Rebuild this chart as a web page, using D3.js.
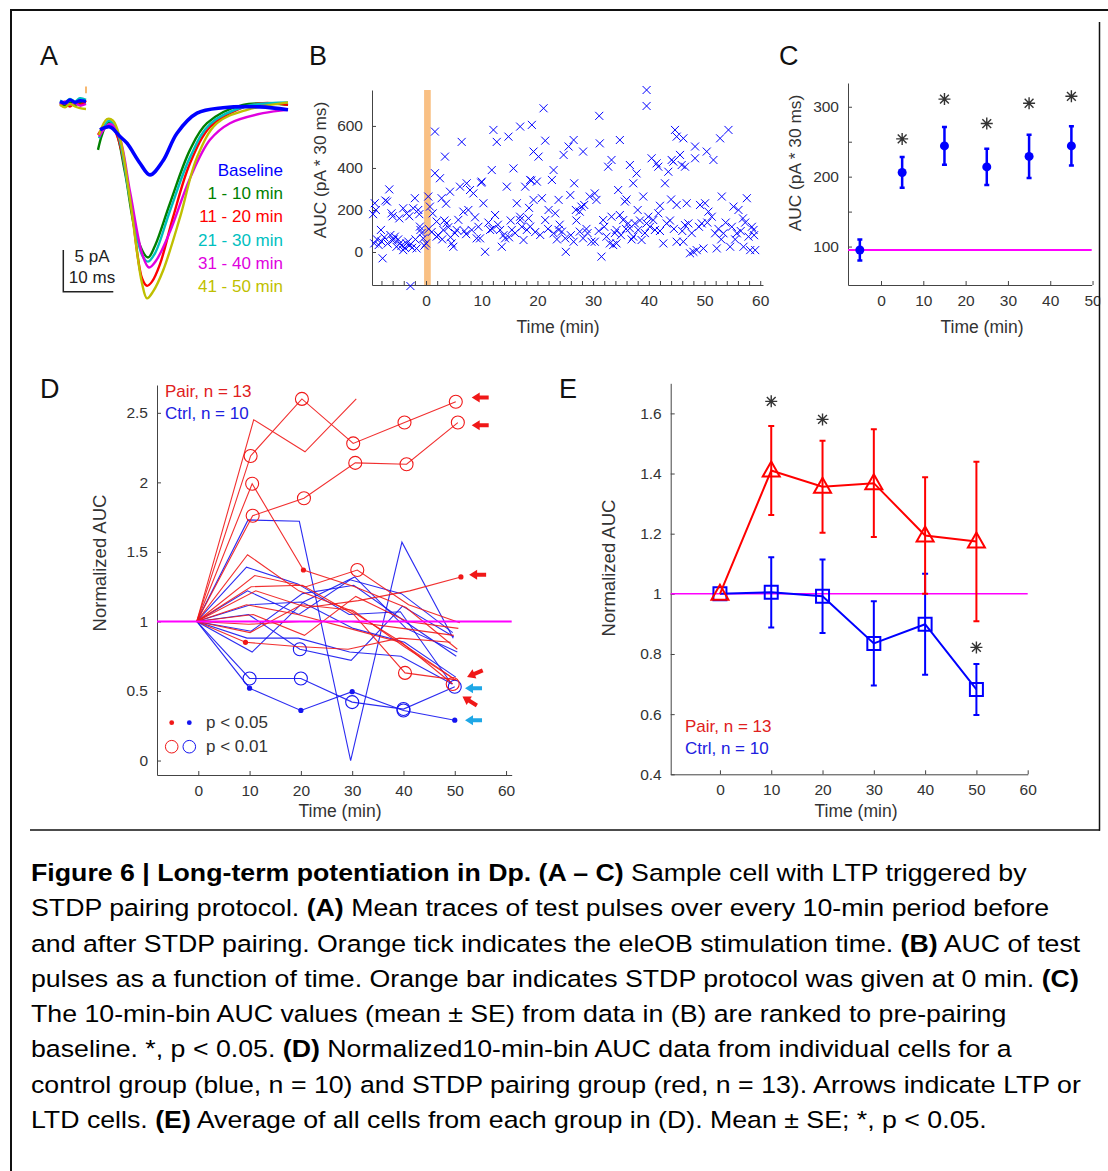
<!DOCTYPE html>
<html lang="en">
<head>
<meta charset="utf-8">
<title>Figure 6 | Long-term potentiation in Dp</title>
<script src="https://cdn.jsdelivr.net/npm/d3@7"></script>
<style>
body { margin: 0; background: #fff; }
svg text { font-family: "Liberation Sans", Arial, Helvetica, sans-serif; }
.axis path, .axis line { stroke: #444; stroke-width: 1; }
.axis text { fill: #333; font-size: 15.5px; }
.title { fill: #333; font-size: 17.5px; }
.letter { fill: #111; font-size: 27px; }
</style>
</head>
<body>
<svg id="fig" width="1108" height="1171"></svg>
<script>

// ---------- data ----------

// panel A: mean traces, [time ms, current pA]
var traceNames  = ["Baseline", "1 - 10 min", "11 - 20 min", "21 - 30 min", "31 - 40 min", "41 - 50 min"];
var traceColors = ["#0000ff", "#008000", "#ff0000", "#00bfbf", "#e000e0", "#bfbf00"];
var tracePre = [
  [[0,0.3],[1,0.1],[2,0.5],[3,0.2],[4,0.4],[5.2,0.3]],
  [[0,0.1],[1,-0.2],[2,0.2],[3,-0.1],[4,0.1],[5.2,0.2]],
  [[0,-0.2],[1,0.1],[2,-0.3],[3,0.2],[4,-0.1],[5.2,0.4]],
  [[0,0.4],[1,0.2],[2,0.6],[3,0.3],[4,0.7],[5.2,0.5]],
  [[0,0.0],[1,0.3],[2,-0.1],[3,0.1],[4,-0.2],[5.2,0.0]],
  [[0,-0.1],[1,-0.4],[2,0.0],[3,-0.3],[4,-0.5],[5.2,-0.6]]
];
var tracePost = [
  [[8.0,-3.1],[10,-2.75],[12,-3.9],[13.4,-4.7],[16,-7.1],[18,-8.5],[20.6,-6.8],[23.4,-3.5],[27.4,-1.1],[32.6,-0.45],[40,-0.35],[45.6,-0.7]],
  [[7.6,-5.5],[8.4,-3.7],[9.6,-2.2],[11,-3.0],[13,-8.2],[15.4,-16],[17.6,-18.4],[19,-17],[22,-11.9],[26,-5.5],[29.4,-2.3],[36.6,-0.1],[45.6,-0.1]],
  [[7.6,-3.7],[8.4,-3.1],[10.4,-2.75],[11.6,-4.1],[14,-11.2],[16.4,-20.9],[17.4,-21.8],[18.4,-21.3],[20,-19.2],[22.6,-13.6],[26,-7.1],[30,-2.75],[35.4,-0.7],[40.6,0.1],[45.6,-0.1]],
  [[7.8,-4.1],[9.8,-2.0],[11.4,-3.3],[14,-11.4],[16.4,-18.1],[17.6,-18.9],[19,-17.9],[22,-12.8],[26,-6.4],[30,-2.4],[37,-0.3],[45.6,0.2]],
  [[7.8,-3.9],[10,-2.4],[11.8,-3.8],[14,-10.5],[16.5,-18.1],[17.8,-19.6],[19.2,-18.8],[22,-15.3],[26,-8.9],[30,-4.3],[34,-2.3],[40.6,-1.1],[45.6,-0.7]],
  [[7.8,-3.7],[9.4,-1.8],[10.6,-2.0],[12,-4.1],[14,-11.4],[16.4,-21.5],[17.4,-23.3],[18.6,-22.5],[20.6,-20],[24,-13.6],[27.4,-6.4],[31.4,-2.3],[37.4,-0.7],[45.6,0.2]]
];
var stimTime = 5.2;

// panel B: AUC of every test pulse, [time min, AUC]
var aucScatter = [
  [-9.2,232],[-9.0,200],[-9.3,41],[-8.5,33],[-7.8,-30],[-8.1,105],[-7.0,240],[-6.6,298],[-7.3,245],[-6.2,184],
  [-6.4,81],[-5.6,73],[-5.3,25],[-4.7,41],[-4.1,9],[-3.5,41],[-2.9,33],[-3.5,184],[-4.1,208],[-2.3,208],
  [-2.0,256],[-1.4,200],[-2.8,-162],[-1.1,121],[-1.0,105],[-1.7,17],[-0.5,65],[0.0,41],[0.4,264],[0.7,216],
  [-8.8,60],[-8.0,50],[-7.5,70],[-6.9,40],[-6.0,55],[-5.0,60],[-4.4,30],[-3.8,20],[-3.2,50],[-2.5,20],
  [-1.9,60],[-0.8,90],[-9.5,180],[-6.0,170],[-5.8,60],[-4.8,160],[-3.0,170],[-1.2,180],[-0.3,30],
  [1.6,375],[1.6,573],[1.2,184],[1.9,73],[2.5,351],[2.8,256],[1.9,145],[3.4,454],[3.1,105],[3.7,137],
  [4.0,118],[4.3,287],[4.6,41],[4.9,25],[5.5,105],[5.8,153],[6.1,311],[6.4,524],[6.7,192],[7.3,327],
  [7.6,200],[7.9,295],[8.5,279],[8.2,105],[9.1,65],[9.7,65],[10.0,335],[10.3,232],[10.6,1],[11.8,390],
  [12.1,581],[12.7,524],[12.4,176],[11.5,105],[13.3,105],[13.6,25],[14.5,311],[14.8,549],[15.7,398],[16.3,232],
  [16.9,597],[17.8,311],[19.0,605],[19.3,248],[19.3,478],[18.1,105],[16.9,153],[18.7,121],[15.4,105],[14.2,65],
  [17.5,57],[16.9,168],[0.5,110],[1.0,95],[2.2,80],[2.9,60],[3.3,150],[4.4,70],[5.2,90],[6.9,100],
  [7.2,85],[8.8,165],[9.4,120],[11.2,140],[11.9,110],[12.9,130],[13.9,80],[14.9,70],[15.2,150],[16.0,90],
  [17.2,120],[18.4,160],[19.6,95],[3.6,230],[9.9,330],[18.9,340],[18.5,210],
  [21.1,684],[21.4,530],[20.2,454],[18.7,343],[19.9,335],[22.9,390],[22.6,343],[26.5,533],[25.6,502],[24.7,462],
  [28.2,478],[26.6,327],[25.9,271],[23.8,248],[20.8,256],[22.0,200],[23.2,184],[21.4,152],[20.5,81],[22.9,89],
  [23.8,105],[24.4,97],[25.0,65],[26.5,49],[25.1,1],[27.6,192],[27.9,216],[29.4,264],[30.3,279],[30.6,248],
  [28.4,224],[26.9,200],[27.6,97],[28.2,65],[29.7,49],[30.3,49],[31.1,648],[31.2,517],[31.5,-22],[31.8,152],
  [32.7,406],[33.3,438],[32.4,73],[33.0,41],[33.6,33],[34.2,41],[34.8,533],[34.5,295],[35.7,240],[33.3,168],
  [34.8,176],[35.4,152],[34.2,105],[36.3,136],[36.6,414],[37.8,374],[37.2,327],[39.0,264],[36.6,113],[37.5,136],
  [38.1,105],[37.2,73],[38.7,57],[39.6,136],[39.9,168],[39.6,771],[39.6,695],[40.5,446],[41.4,422],[41.7,406],
  [40.8,152],[41.7,184],[41.1,105],[42.6,41],[42.9,327],[43.5,382],[44.1,438],[44.4,430],[44.7,581],[45.0,549],
  [46.2,541],[45.6,462],[45.9,414],[46.5,406],[43.2,136],[45.0,224],[46.8,232],[45.0,49],[46.2,49],[46.5,128],
  [47.1,136],[48.0,1],[48.3,502],[48.3,446],[49.2,224],[49.5,136],[50.1,232],[50.4,478],[51.6,438],[50.7,192],
  [51.3,168],[52.2,17],[51.9,89],[53.1,264],[52.8,541],[54.3,581],[53.4,89],[54.6,25],[55.2,216],[56.1,200],
  [57.6,256],[55.8,89],[57.0,25],[57.9,73],[58.5,120],[58.2,9],[59.1,9],[58.8,105],[49.8,17],[47.4,-6],[48.6,9],
  [21.9,110],[23.5,60],[24.0,130],[26.0,80],[27.0,150],[28.8,110],[29.0,90],[31.0,100],[32.0,120],[33.9,90],
  [35.0,80],[35.9,110],[36.9,60],[38.4,150],[39.3,90],[40.2,120],[42.0,100],[43.8,150],[44.5,110],[46.0,100],
  [47.7,90],[49.0,120],[50.5,140],[52.5,110],[53.8,140],[54.9,120],[56.5,100],[57.3,140],[58.9,80],[56.9,160],
  [55.5,60],[53.0,60],[44.0,250],[42.0,220],[38.0,200],[36.0,250]
];
var stdpBar = [-0.35, 0.85];

// panel C: 10-min bins
var binTimes = [-5, 5, 15, 25, 35, 45];
var binMean  = [95, 206, 244, 214, 229, 244];
var binSE    = [15, 22, 27, 26, 31, 28];
var binStar  = [null, 254, 311, 276, 305, 315];
var baseAUC  = 95;

// panel D: normalized AUC of single cells
var cellTimes = [0, 10, 20, 30, 40, 50];
var pairCells = [
  [1, 2.19, 2.60, 2.28, 2.43, 2.58],
  [1, 2.45, 2.22, 2.60],
  [1, 1.99, 1.37, 1.25, 1.10, 0.80],
  [1, 1.76, 1.886, 2.14, 2.13, 2.43],
  [1, 1.48, 1.22, 1.08, 0.85, 0.55],
  [1, 1.33, 1.25, 1.37, 1.12, 0.99],
  [1, 1.22, 1.10, 1.15, 1.22, 1.32],
  [1, 1.25, 1.26, 1.05, 0.63, 0.58],
  [1, 1.12, 1.05, 0.95, 0.85, 0.60],
  [1, 1.05, 0.90, 1.18, 1.00, 0.95],
  [1, 0.85, 0.82, 0.80, 0.88, 0.85],
  [1, 0.92, 1.12, 1.08, 0.82, 0.58],
  [1, 0.98, 1.00, 1.00, 0.95, 0.90]
];
var pairMarks = ["-ooooo", "----", "-o.---", "-ooooo", "-----o", "---o--", "-----.", "----o-", "------", "------", "-.----", "------", "------"];
var pairJit   = [0.2, 0.8, 0.5, 0.6, -0.4, 1.0, 1.2, 0.3, -0.6, 0.7, -0.8, 0.1, -0.2];
var ctrlCells = [
  [1, 0.59, 0.59, 0.42, 0.37, 0.53],
  [1, 0.52, 0.36, 0.495, 0.36, 0.29],
  [1, 1.73, 1.72, 0.00, 1.57, 0.88],
  [1, 1.39, 1.27, 1.05, 1.07, 0.55],
  [1, 1.22, 1.05, 1.30, 1.20, 0.92],
  [1, 1.05, 0.80, 0.72, 1.11, 0.89],
  [1, 0.93, 1.20, 1.26, 1.00, 0.75],
  [1, 0.78, 1.14, 1.32, 0.95, 0.78],
  [1, 0.88, 0.88, 0.78, 0.75, 0.55],
  [1, 1.12, 1.14, 0.95, 0.85, 0.60]
];
var ctrlMarks = ["-ooooo", "-...o.", "------", "------", "------", "--o---", "------", "------", "------", "------"];
var ctrlJit   = [0, 0, -0.3, -0.6, -0.4, -0.2, 0.3, 0.5, -0.5, 0.2];
// arrows: [tip time, tip value, rotation deg]
var pairArrows = [[53.3, 2.61, 0], [53.3, 2.41, 0], [52.8, 1.335, 0], [52.4, 0.60, -23], [51.5, 0.46, 32]];
var ctrlArrows = [[52.0, 0.52, 0], [52.0, 0.29, 0]];

// panel E: group means
var groupTimes = [0, 10, 20, 30, 40, 50];
var pairMean = [1.0, 1.41, 1.356, 1.368, 1.194, 1.174];
var pairSE   = [0, 0.148, 0.153, 0.179, 0.194, 0.265];
var ctrlMean = [1.0, 1.005, 0.992, 0.835, 0.899, 0.682];
var ctrlSE   = [0, 0.117, 0.122, 0.140, 0.168, 0.085];
var starTimes = [10, 20, 50];
var starVals  = [1.64, 1.58, 0.822];

var captionLines = [
  [["Figure 6 | Long-term potentiation in Dp. (A \u2013 C)", 1], [" Sample cell with LTP triggered by", 0]],
  [["STDP pairing protocol. ", 0], ["(A)", 1], [" Mean traces of test pulses over every 10-min period before", 0]],
  [["and after STDP pairing. Orange tick indicates the eleOB stimulation time. ", 0], ["(B)", 1], [" AUC of test", 0]],
  [["pulses as a function of time. Orange bar indicates STDP protocol was given at 0 min. ", 0], ["(C)", 1]],
  [["The 10-min-bin AUC values (mean \u00b1 SE) from data in (B) are ranked to pre-pairing", 0]],
  [["baseline. *, p < 0.05. ", 0], ["(D)", 1], [" Normalized10-min-bin AUC data from individual cells for a", 0]],
  [["control group (blue, n = 10) and STDP pairing group (red, n = 13). Arrows indicate LTP or", 0]],
  [["LTD cells. ", 0], ["(E)", 1], [" Average of all cells from each group in (D). Mean \u00b1 SE; *, p < 0.05.", 0]]
];

// ---------- drawing ----------

var svg = d3.select("#fig");
svg.append("rect").attr("width", 1108).attr("height", 1171).attr("fill", "#fff");

function drawAxes(x, y, xticks, xfmt, yticks, yfmt, xpad, ypad) {
  svg.append("g").attr("class", "axis")
    .attr("transform", "translate(0," + y.range()[0] + ")")
    .call(d3.axisBottom(x).tickValues(xticks).tickFormat(xfmt)
      .tickSizeInner(-4).tickSizeOuter(0).tickPadding(xpad));
  svg.append("g").attr("class", "axis")
    .attr("transform", "translate(" + x.range()[0] + ",0)")
    .call(d3.axisLeft(y).tickValues(yticks).tickFormat(yfmt)
      .tickSizeInner(-4).tickSizeOuter(0).tickPadding(ypad));
}

function xTitle(x, y, s) {
  svg.append("text").attr("class", "title").attr("x", x).attr("y", y)
    .attr("text-anchor", "middle").text(s);
}
function yTitle(x, y, s, size) {
  svg.append("text").attr("class", "title")
    .attr("transform", "translate(" + x + "," + y + ") rotate(-90)")
    .style("font-size", size + "px")
    .attr("dy", "0.35em").attr("text-anchor", "middle").text(s);
}
function letter(x, y, s) {
  svg.append("text").attr("class", "letter").attr("x", x).attr("y", y).text(s);
}
function starPath(cx, cy) {
  var r = 6, d = 4.4;
  return "M" + (cx - r) + "," + cy + "H" + (cx + r) +
         "M" + cx + "," + (cy - r) + "V" + (cy + r) +
         "M" + (cx - d) + "," + (cy - d) + "L" + (cx + d) + "," + (cy + d) +
         "M" + (cx - d) + "," + (cy + d) + "L" + (cx + d) + "," + (cy - d);
}
function label(x, y, s, size, color, anchor) {
  svg.append("text").attr("x", x).attr("y", y).attr("text-anchor", anchor || "start")
    .style("font-size", size + "px").attr("fill", color).text(s);
}

var intFmt = d3.format("d");
var noLabel = function(d) { return d % 10 === 0 ? d : ""; };

// ---- A ----
letter(40, 65, "A");
var xA = d3.scaleLinear().domain([0, 10]).range([60, 110]);
var yA = d3.scaleLinear().domain([0, -5]).range([104, 145.7]);
var lineA = d3.line().x(function(d) { return xA(d[0]); }).y(function(d) { return yA(d[1]); })
  .curve(d3.curveCatmullRom);
var drawOrder = [1, 2, 3, 4, 5, 0];
drawOrder.forEach(function(i) {
  svg.append("path").attr("d", lineA(tracePre[i])).attr("fill", "none")
    .attr("stroke", traceColors[i]).attr("stroke-width", i === 0 ? 3.2 : 2.4);
  svg.append("path").attr("d", lineA(tracePost[i])).attr("fill", "none")
    .attr("stroke", traceColors[i]).attr("stroke-width", i === 0 ? 3.6 : 2.4)
    .attr("stroke-linejoin", "round");
});
svg.append("line").attr("x1", xA(stimTime)).attr("x2", xA(stimTime))
  .attr("y1", yA(2.1)).attr("y2", yA(1.3)).attr("stroke", "#f5a040").attr("stroke-width", 1.5);
// scale bar 10 ms / 5 pA
svg.append("path")
  .attr("d", "M" + xA(0.66) + "," + yA(-17.5) + "V" + yA(-22.5) + "H" + xA(10.66))
  .attr("fill", "none").attr("stroke", "#222").attr("stroke-width", 1.5);
label(92, 262, "5 pA", 17, "#222", "middle");
label(92, 283, "10 ms", 17, "#222", "middle");
traceNames.forEach(function(s, i) {
  label(283, 176 + i * 23.2, s, 17, traceColors[i], "end");
});

// ---- B ----
letter(309, 65, "B");
var xB = d3.scaleLinear().domain([-9.7, 60.5]).range([372, 763]);
var yB = d3.scaleLinear().domain([-157, 771]).range([285, 90]);
svg.append("rect").attr("x", xB(stdpBar[0])).attr("y", yB.range()[1])
  .attr("width", xB(stdpBar[1]) - xB(stdpBar[0])).attr("height", yB.range()[0] - yB.range()[1])
  .attr("fill", "#f9c084");
drawAxes(xB, yB, d3.range(-8, 61, 2), noLabel, [0, 200, 400, 600], intFmt, 10, 9);
svg.append("g").selectAll("path").data(aucScatter).enter().append("path")
  .attr("d", function(d) {
    var cx = xB(d[0]), cy = yB(d[1]);
    return "M" + (cx - 4) + "," + (cy - 4) + "L" + (cx + 4) + "," + (cy + 4) +
           "M" + (cx - 4) + "," + (cy + 4) + "L" + (cx + 4) + "," + (cy - 4);
  })
  .attr("stroke", "#0000ff").attr("stroke-width", 1).attr("fill", "none");
yTitle(320, 170, "AUC (pA * 30 ms)", 17.3);
xTitle(558, 333, "Time (min)");

// ---- C ----
letter(779, 65, "C");
var xC = d3.scaleLinear().domain([-7.8, 49.8]).range([848, 1091.7]);
var yC = d3.scaleLinear().domain([45, 334]).range([285, 83]);
drawAxes(xC, yC, [0, 10, 20, 30, 40, 50], intFmt, [100, 150, 200, 250, 300],
  function(d) { return d % 100 === 0 ? d : ""; }, 10, 9);
svg.append("line").attr("x1", xC.range()[0]).attr("x2", xC.range()[1])
  .attr("y1", yC(baseAUC)).attr("y2", yC(baseAUC)).attr("stroke", "#ff00ff").attr("stroke-width", 2);
binTimes.forEach(function(t, i) {
  var cx = xC(t), lo = yC(binMean[i] - binSE[i]), hi = yC(binMean[i] + binSE[i]);
  svg.append("path").attr("d", "M" + cx + "," + lo + "V" + hi +
      "M" + (cx - 2.5) + "," + lo + "H" + (cx + 2.5) + "M" + (cx - 2.5) + "," + hi + "H" + (cx + 2.5))
    .attr("stroke", "#0000ff").attr("stroke-width", 2.5).attr("fill", "none");
  svg.append("circle").attr("cx", cx).attr("cy", yC(binMean[i])).attr("r", 4.5).attr("fill", "#0000ff");
  if (binStar[i] !== null) {
    svg.append("path").attr("d", starPath(xC(t), yC(binStar[i])))
      .attr("stroke", "#333").attr("stroke-width", 1.4).attr("fill", "none");
  }
});
yTitle(795, 163, "AUC (pA * 30 ms)", 17.3);
xTitle(982, 333, "Time (min)");

// ---- D ----
letter(40, 398, "D");
var xD = d3.scaleLinear().domain([-8.05, 61.1]).range([157, 511.7]);
var yD = d3.scaleLinear().domain([-0.104, 2.70]).range([775, 385]);
drawAxes(xD, yD, [0, 10, 20, 30, 40, 50, 60], intFmt, [0, 0.5, 1, 1.5, 2, 2.5], d3.format(""), 10, 9);

function drawCells(cells, marks, jit, color) {
  cells.forEach(function(vals, c) {
    var pts = vals.map(function(v, i) {
      return [xD(cellTimes[i] + (i === 0 ? -0.3 : jit[c])), yD(v)];
    });
    svg.append("path").attr("d", d3.line()(pts)).attr("fill", "none")
      .attr("stroke", color).attr("stroke-width", 1.1).attr("stroke-opacity", 0.9);
    pts.forEach(function(p, i) {
      var m = marks[c].charAt(i);
      if (m === "o") {
        svg.append("circle").attr("cx", p[0]).attr("cy", p[1]).attr("r", 6.5)
          .attr("fill", "none").attr("stroke", color).attr("stroke-width", 1.1);
      } else if (m === ".") {
        svg.append("circle").attr("cx", p[0]).attr("cy", p[1]).attr("r", 2.6).attr("fill", color);
      }
    });
  });
}
drawCells(ctrlCells, ctrlMarks, ctrlJit, "#1515f0");
drawCells(pairCells, pairMarks, pairJit, "#f01818");
svg.append("line").attr("x1", xD.range()[0]).attr("x2", xD.range()[1])
  .attr("y1", yD(1)).attr("y2", yD(1)).attr("stroke", "#ff00ff").attr("stroke-width", 2);

function drawArrows(list, color) {
  list.forEach(function(a) {
    svg.append("path")
      .attr("d", "M0,0L8,-5L8,-2L17,-2L17,2L8,2L8,5Z")
      .attr("transform", "translate(" + xD(a[0]) + "," + yD(a[1]) + ") rotate(" + a[2] + ")")
      .attr("fill", color);
  });
}
drawArrows(pairArrows, "#f01818");
drawArrows(ctrlArrows, "#1ea7e6");

label(165, 397, "Pair, n = 13", 17, "#e02020");
label(165, 419, "Ctrl, n = 10", 17, "#2020e0");
svg.append("circle").attr("cx", 171.7).attr("cy", 722.7).attr("r", 2.4).attr("fill", "#f01818");
svg.append("circle").attr("cx", 189.3).attr("cy", 722.7).attr("r", 2.4).attr("fill", "#1515f0");
svg.append("circle").attr("cx", 171.7).attr("cy", 746.7).attr("r", 6.3).attr("fill", "none").attr("stroke", "#f01818");
svg.append("circle").attr("cx", 189.3).attr("cy", 746.7).attr("r", 6.3).attr("fill", "none").attr("stroke", "#1515f0");
label(206, 728, "p < 0.05", 17, "#333");
label(206, 752, "p < 0.01", 17, "#333");
yTitle(100, 563, "Normalized AUC", 18.5);
xTitle(340, 817, "Time (min)");

// ---- E ----
letter(559, 398, "E");
var xE = d3.scaleLinear().domain([-9.6, 60]).range([670.7, 1027.7]);
var yE = d3.scaleLinear().domain([0.4, 1.70]).range([774.3, 383.3]);
drawAxes(xE, yE, [0, 10, 20, 30, 40, 50, 60], intFmt, [0.4, 0.6, 0.8, 1, 1.2, 1.4, 1.6], d3.format(""), 10, 9);
svg.append("line").attr("x1", xE.range()[0]).attr("x2", xE.range()[1])
  .attr("y1", yE(1)).attr("y2", yE(1)).attr("stroke", "#ff00ff").attr("stroke-width", 1.5);

function drawGroup(mean, se, color, shape) {
  groupTimes.forEach(function(t, i) {
    if (se[i] <= 0) return;
    var cx = xE(t), lo = yE(mean[i] - se[i]), hi = yE(mean[i] + se[i]);
    svg.append("path").attr("d", "M" + cx + "," + lo + "V" + hi +
        "M" + (cx - 3) + "," + lo + "H" + (cx + 3) + "M" + (cx - 3) + "," + hi + "H" + (cx + 3))
      .attr("stroke", color).attr("stroke-width", 2).attr("fill", "none");
  });
  svg.append("path")
    .attr("d", d3.line().x(function(d, i) { return xE(groupTimes[i]); }).y(function(d) { return yE(d); })(mean))
    .attr("fill", "none").attr("stroke", color).attr("stroke-width", 2);
  mean.forEach(function(m, i) {
    var cx = xE(groupTimes[i]), cy = yE(m);
    var d = shape === "tri"
      ? "M" + cx + "," + (cy - 9) + "L" + (cx + 8.5) + "," + (cy + 6) + "L" + (cx - 8.5) + "," + (cy + 6) + "Z"
      : "M" + (cx - 6.5) + "," + (cy - 6.5) + "h13v13h-13Z";
    svg.append("path").attr("d", d).attr("fill", "none").attr("stroke", color).attr("stroke-width", 2);
  });
}
drawGroup(ctrlMean, ctrlSE, "#0000ff", "sq");
drawGroup(pairMean, pairSE, "#ff0000", "tri");
starTimes.forEach(function(t, i) {
  svg.append("path").attr("d", starPath(xE(t), yE(starVals[i])))
    .attr("stroke", "#333").attr("stroke-width", 1.4).attr("fill", "none");
});
label(685, 732, "Pair, n = 13", 17, "#e02020");
label(685, 754, "Ctrl, n = 10", 17, "#2020e0");
yTitle(609, 568, "Normalized AUC", 18.5);
xTitle(856, 817, "Time (min)");

// ---- frame ----
svg.append("rect").attr("x", 1100.3).attr("y", 22).attr("width", 8).attr("height", 808).attr("fill", "#fff");
svg.append("line").attr("x1", 10).attr("x2", 1108).attr("y1", 10).attr("y2", 10).attr("stroke", "#111").attr("stroke-width", 2);
svg.append("line").attr("x1", 11).attr("x2", 11).attr("y1", 10).attr("y2", 1171).attr("stroke", "#111").attr("stroke-width", 2);
svg.append("line").attr("x1", 1099.5).attr("x2", 1099.5).attr("y1", 22).attr("y2", 830.7).attr("stroke", "#111").attr("stroke-width", 1.5);
svg.append("line").attr("x1", 30).attr("x2", 1100).attr("y1", 830).attr("y2", 830).attr("stroke", "#111").attr("stroke-width", 1.5);

// ---- caption (source text is set a little wide) ----
var cap = svg.append("g").attr("transform", "translate(31,0) scale(1.137,1)");
captionLines.forEach(function(parts, li) {
  var t = cap.append("text").attr("x", 0).attr("y", 881 + li * 35.3)
    .style("font-size", "23.5px").attr("fill", "#000");
  parts.forEach(function(p) {
    t.append("tspan").attr("font-weight", p[1] ? "bold" : "normal").text(p[0]);
  });
});
</script>
</body>
</html>
